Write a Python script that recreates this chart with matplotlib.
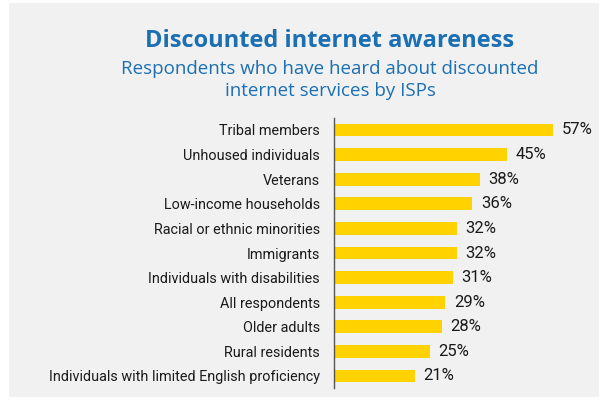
import matplotlib
matplotlib.use("Agg")
import matplotlib.pyplot as plt
from matplotlib.patches import Rectangle

# survey groups, top to bottom, and share who had heard of ISP discount plans
groups = [
    "Tribal members",
    "Unhoused individuals",
    "Veterans",
    "Low-income households",
    "Racial or ethnic minorities",
    "Immigrants",
    "Individuals with disabilities",
    "All respondents",
    "Older adults",
    "Rural residents",
    "Individuals with limited English proficiency",
]
pct = [57, 45, 38, 36, 32, 32, 31, 29, 28, 25, 21]

TITLE_FONT = "Open Sans"
FONT = "Roboto"
BLUE = "#1b6fb3"
BAR = "#ffd200"
PANEL = "#f1f1f1"

W, H = 599, 400
fig = plt.figure(figsize=(W / 100, H / 100), dpi=100)
fig.patch.set_facecolor("white")

# light grey card behind everything
fig.patches.append(Rectangle((9 / W, 3 / H), 1 - 9 / W, 394 / H,
                             transform=fig.transFigure, facecolor=PANEL,
                             edgecolor="none", zorder=-5))

fig.text(330 / W, 1 - 41 / H, "Discounted internet awareness", ha="center",
         va="center", fontsize=17, fontweight="bold", color=BLUE,
         family=TITLE_FONT)
fig.text(330 / W, 1 - 80 / H,
         "Respondents who have heard about discounted\ninternet services by ISPs",
         ha="center", va="center", fontsize=13.5, color=BLUE,
         family=TITLE_FONT, linespacing=1.22)

x0, x1 = 334, 564.5
y_top, y_bot = 117.7, 388.3
ax = fig.add_axes([x0 / W, 1 - y_bot / H, (x1 - x0) / W, (y_bot - y_top) / H])
ax.set_facecolor("none")
ax.set_zorder(2)

ypos = list(range(len(groups)))
ax.barh(ypos, pct, height=0.52, color=BAR, zorder=2)
for y, v in zip(ypos, pct):
    ax.text(v + 2.2, y, f"{v}%", va="center", ha="left", fontsize=12,
            color="#1a1a1a", family=FONT)

ax.set_xlim(0, 60)
ax.set_ylim(len(groups) - 0.5, -0.5)
ax.set_yticks(ypos)
ax.set_yticklabels(groups, family=FONT, fontsize=10.4, color="#1a1a1a")
ax.tick_params(axis="y", length=0, pad=10)
ax.set_xticks([])
for side in ("top", "right", "bottom"):
    ax.spines[side].set_visible(False)
ax.spines["left"].set_color("#555555")
ax.spines["left"].set_linewidth(1.0)

fig.savefig("out.png", dpi=100)
